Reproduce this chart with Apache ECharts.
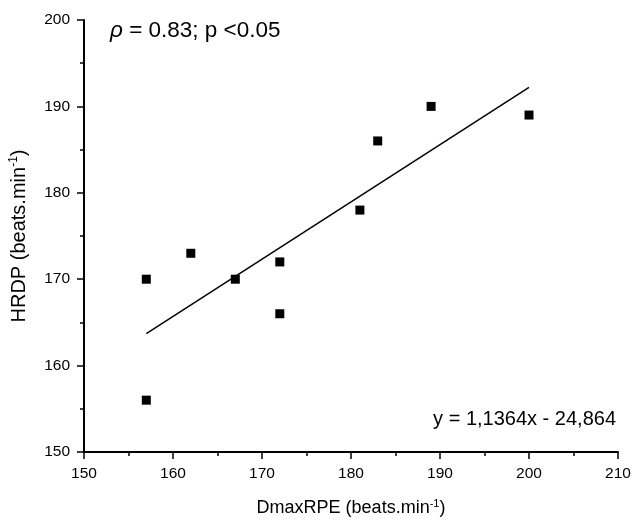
<!DOCTYPE html>
<html><head><meta charset="utf-8">
<script src="https://cdn.jsdelivr.net/npm/echarts@6/dist/echarts.min.js"></script>
<style>html,body{margin:0;padding:0;background:#fff}#c{width:634px;height:519px}</style>
</head><body><div id="c"></div>
<script>
var dmaxRPE = [157, 157, 162, 167, 172, 172, 181, 183, 189, 200];
var hrdp    = [170, 156, 173, 170, 172, 166, 178, 186, 190, 189];
var fitX = [157, 200];
var fitY = [163.7, 192.2];
var xTicks = [150, 160, 170, 180, 190, 200, 210];
var yTicks = [150, 160, 170, 180, 190, 200];
var corrSymbol = 'ρ';
var corrText = ' = 0.83; p <0.05';
var eqText = 'y = 1,1364x - 24,864';

var font = 'Liberation Sans, Arial, sans-serif';
var pts = dmaxRPE.map(function(x, i){ return [x, hrdp[i]]; });
var fit = fitX.map(function(x, i){ return [x, fitY[i]]; });

function axisBase(margin) {
  return {
    axisLine: {show: true, lineStyle: {color: '#000', width: 2}},
    axisTick: {show: true, inside: false, length: 7, lineStyle: {color: '#000', width: 1.5}},
    minorTick: {show: true, splitNumber: 2, length: 4, lineStyle: {color: '#000', width: 1.5}},
    splitLine: {show: false},
    minorSplitLine: {show: false},
    axisLabel: {color: '#000', fontSize: 15.5, fontFamily: font, margin: margin}
  };
}

var chart = echarts.init(document.getElementById('c'), null, {renderer: 'canvas'});
chart.setOption({
  animation: false,
  backgroundColor: '#fff',
  grid: {left: 84, right: 16, top: 20, bottom: 67, containLabel: false, outerBoundsMode: 'none'},
  xAxis: Object.assign({
    type: 'value', min: xTicks[0], max: xTicks[xTicks.length-1], interval: 10,
    name: '{a|DmaxRPE (beats.min}{s|-1}{a|)}',
    nameLocation: 'middle', nameGap: 46,
    nameTextStyle: {rich: {
      a: {fontSize: 18, fontFamily: font, color: '#000'},
      s: {fontSize: 11, fontFamily: font, color: '#000', padding: [0, 0, 10, 0]}
    }}
  }, axisBase(14)),
  yAxis: Object.assign({
    type: 'value', min: yTicks[0], max: yTicks[yTicks.length-1], interval: 10,
    name: '{a|HRDP (beats.min}{s|-1}{a|)}',
    nameLocation: 'middle', nameGap: 53, nameRotate: 90,
    nameTextStyle: {rich: {
      a: {fontSize: 20, fontFamily: font, color: '#000'},
      s: {fontSize: 12, fontFamily: font, color: '#000', padding: [0, 0, 11, 0]}
    }}
  }, axisBase(14)),
  series: [
    {type: 'line', data: fit, showSymbol: false, symbol: 'none',
     lineStyle: {color: '#000', width: 1.5}, silent: true, z: 1},
    {type: 'scatter', data: pts, symbol: 'rect', symbolSize: 9,
     itemStyle: {color: '#000', opacity: 1}, z: 2}
  ],
  graphic: [
    {type: 'text', left: 110, top: 19, style: {
      text: '{i|' + corrSymbol + '}{n|' + corrText + '}',
      rich: {
        i: {fontSize: 22.5, fontFamily: font, fontStyle: 'italic', fill: '#000', color: '#000'},
        n: {fontSize: 22.5, fontFamily: font, fill: '#000', color: '#000'}
      }
    }},
    {type: 'text', right: 18, top: 409, style: {text: eqText, font: '20px ' + font, fill: '#000'}}
  ]
});
</script></body></html>
